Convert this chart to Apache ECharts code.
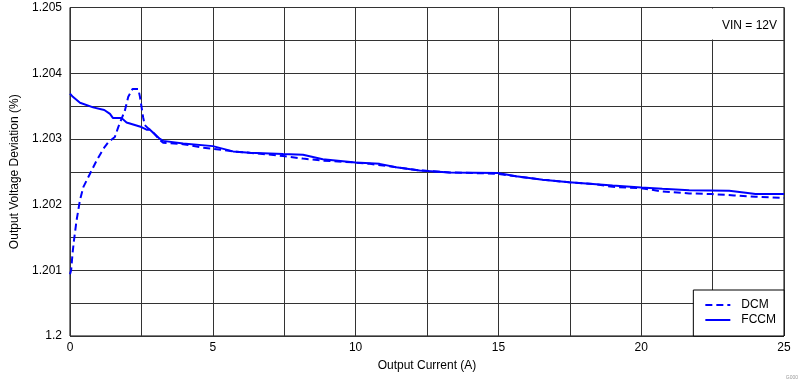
<!DOCTYPE html>
<html><head><meta charset="utf-8">
<script src="https://cdn.jsdelivr.net/npm/echarts@6/dist/echarts.min.js"></script>
<style>html,body{margin:0;padding:0;background:#fff}#c{width:803px;height:382px}</style>
</head><body><div id="c"></div>
<script>
const dcmX = [0, 0.04, 0.09, 0.14, 0.23, 0.35, 0.47, 0.70, 0.93, 1.17, 1.34, 1.57, 1.69, 1.92, 2.04, 2.19, 2.39, 2.45, 2.56, 2.62, 2.74, 2.91, 3.15, 3.26, 3.96, 4.6, 5.0, 5.71, 6.5, 7.46, 8.16, 8.85, 10.0, 10.5, 11.42, 12.24, 13.29, 14.97, 15.62, 16.55, 17.48, 18.42, 19.0, 20.0, 20.74, 21.68, 22.5, 23.25, 24.0, 25.0];
const dcmY = [1.20094, 1.20100, 1.20126, 1.20146, 1.20176, 1.20207, 1.20227, 1.20247, 1.20267, 1.20285, 1.20295, 1.20303, 1.20318, 1.20343, 1.20364, 1.20376, 1.20376, 1.20364, 1.20333, 1.20321, 1.20316, 1.20310, 1.20298, 1.20294, 1.20292, 1.20287, 1.20285, 1.20281, 1.20278, 1.20274, 1.20270, 1.20267, 1.20264, 1.20262, 1.20257, 1.20252, 1.20249, 1.20247, 1.20243, 1.20238, 1.20234, 1.20231, 1.20227, 1.20225, 1.20220, 1.20217, 1.20216, 1.20214, 1.20212, 1.20210];
const fccmX = [0, 0.1, 0.35, 0.81, 1.2, 1.4, 1.5, 1.8, 1.98, 2.5, 2.68, 2.8, 3.15, 3.26, 3.96, 5.0, 5.71, 6.29, 7.46, 8.16, 8.85, 10.0, 10.84, 11.42, 12.24, 13.29, 14.97, 15.62, 16.55, 17.48, 18.42, 19.0, 20.0, 20.74, 21.68, 23.08, 23.66, 24.0, 25.0];
const fccmY = [1.20369, 1.20364, 1.20355, 1.20348, 1.20344, 1.20338, 1.20332, 1.20332, 1.20325, 1.20318, 1.20314, 1.20314, 1.20300, 1.20297, 1.20293, 1.20289, 1.20281, 1.20279, 1.20277, 1.20276, 1.20269, 1.20264, 1.20262, 1.20257, 1.20252, 1.20249, 1.20248, 1.20243, 1.20238, 1.20234, 1.20231, 1.20229, 1.20226, 1.20224, 1.20222, 1.20221, 1.20218, 1.20216, 1.20216];
const seriesNames = ['DCM', 'FCCM'];
const xTickLabels = ['0', '5', '10', '15', '20', '25'];
const yTickLabels = ['1.2', '1.201', '1.202', '1.203', '1.204', '1.205'];
const noteText = 'VIN = 12V';

const FONT = '"Liberation Sans", Arial, sans-serif';
const zip = (xs, ys) => xs.map((x, i) => [x, ys[i]]);
const chart = echarts.init(document.getElementById('c'), null, {renderer: 'canvas'});
chart.setOption({
  animation: false,
  textStyle: {fontFamily: FONT},
  grid: {left: 70, right: 19, top: 7.5, bottom: 46, show: true, borderColor: '#000', borderWidth: 1, containLabel: false},
  xAxis: {
    type: 'value', min: 0, max: 25, interval: 2.5,
    name: 'Output Current (A)', nameLocation: 'middle', nameGap: 24,
    nameTextStyle: {fontFamily: FONT, fontSize: 12, color: '#000'},
    axisLine: {show: false}, axisTick: {show: false},
    axisLabel: {fontFamily: FONT, fontSize: 12, color: '#000', margin: 6,
      formatter: v => { const s = String(Math.round(v * 100) / 100); return xTickLabels.includes(s) ? s : ''; }},
    splitLine: {show: true, lineStyle: {color: '#333', width: 1}}
  },
  yAxis: {
    type: 'value', min: 1.2, max: 1.205, interval: 0.0005,
    name: 'Output Voltage Deviation (%)', nameLocation: 'middle', nameGap: 39,
    nameTextStyle: {fontFamily: FONT, fontSize: 12, color: '#000'},
    axisLine: {show: false}, axisTick: {show: false},
    axisLabel: {fontFamily: FONT, fontSize: 12, color: '#000', margin: 8,
      formatter: v => { const s = String(parseFloat(v.toFixed(4))); return yTickLabels.includes(s) ? s : ''; }},
    splitLine: {show: true, lineStyle: {color: '#333', width: 1}}
  },
  legend: {
    orient: 'vertical', right: 19, bottom: 46,
    data: seriesNames,
    itemWidth: 25, itemHeight: 13, itemGap: 3,
    padding: [9, 8, 10, 11],
    backgroundColor: '#fff', borderColor: '#000', borderWidth: 1, borderRadius: 0,
    itemStyle: {opacity: 0},
    textStyle: {fontFamily: FONT, fontSize: 12, color: '#000', padding: [0, 0, 0, 6]}
  },
  graphic: [
    {type: 'rect', z: 100, shape: {x: 706, y: 8.5, width: 77, height: 31}, style: {fill: '#fff'}},
    {type: 'text', z: 101, x: 777, y: 26, style: {text: noteText, font: '12px ' + FONT, fill: '#000', align: 'right', verticalAlign: 'middle'}},
    {type: 'text', z: 101, x: 798, y: 378, style: {text: 'G000', font: '5px ' + FONT, fill: '#999', align: 'right', verticalAlign: 'middle'}}
  ],
  series: [
    {name: seriesNames[0], type: 'line', data: zip(dcmX, dcmY), symbol: 'none', z: 5,
      lineStyle: {color: '#0000ff', width: 2, type: [7, 4]}, itemStyle: {color: '#0000ff'}},
    {name: seriesNames[1], type: 'line', data: zip(fccmX, fccmY), symbol: 'none', z: 5,
      lineStyle: {color: '#0000ff', width: 2, type: 'solid'}, itemStyle: {color: '#0000ff'}}
  ]
});
</script></body></html>
